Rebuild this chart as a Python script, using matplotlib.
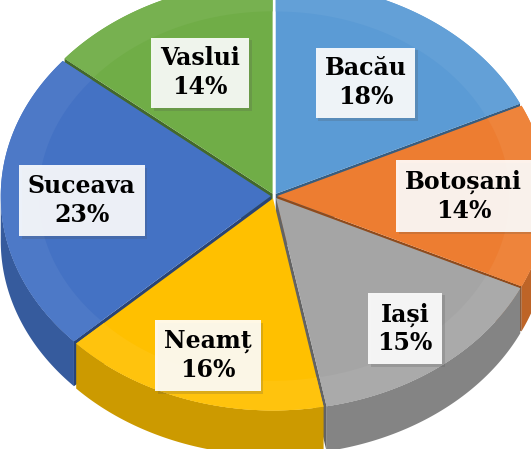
import numpy as np
import matplotlib.pyplot as plt
import matplotlib.patheffects as pe
from matplotlib.patches import Polygon
from matplotlib.colors import to_rgb

regions = ['Bacău', 'Botoșani', 'Iași', 'Neamț', 'Suceava', 'Vaslui']
shares = [18, 14, 15, 16, 23, 14]
colors = ['#5B9BD5', '#ED7D31', '#A5A5A5', '#FFC000', '#4472C4', '#70AD47']

# where each label sits, as a fraction of the radius
label_r = [0.62, 0.69, 0.78, 0.78, 0.70, 0.63]

W, H = 531, 449
fig = plt.figure(figsize=(W / 100, H / 100), dpi=100)
ax = fig.add_axes([0, 0, 1, 1])
ax.set_xlim(0, W)
ax.set_ylim(H, 0)
ax.axis('off')

cx, cy, rx, ry, depth = 274, 196, 270, 212, 45
gap = 0.012


def px(u, v, dz=0.0):
    return cx + rx * np.asarray(u), cy - ry * np.asarray(v) + dz


def shade(c, f):
    r, g, b = to_rgb(c)
    if f < 1:
        return (r * f, g * f, b * f)
    k = f - 1
    return (r + (1 - r) * k, g + (1 - g) * k, b + (1 - b) * k)


total = sum(shares)
slices = []
start = 90.0
for name, s, col in zip(regions, shares, colors):
    t1 = start
    t0 = start - 360.0 * s / total
    tm = np.radians((t0 + t1) / 2)
    ox, oy = gap * np.cos(tm), gap * np.sin(tm)
    slices.append((name, s, col, np.radians(t0), np.radians(t1), tm, ox, oy))
    start = t0

# side walls, back to front
for name, s, col, t0, t1, tm, ox, oy in sorted(slices, key=lambda z: -z[7]):
    side = shade(col, 0.8)
    t = np.linspace(t1, t0, 200)
    m = np.sin(t) <= 1e-9
    if m.sum() > 1:
        tt = t[m]
        xs, ys = px(ox + np.cos(tt), oy + np.sin(tt))
        xb, yb = px(ox + np.cos(tt), oy + np.sin(tt), depth)
        pts = np.column_stack([np.r_[xs, xb[::-1]], np.r_[ys, yb[::-1]]])
        ax.add_patch(Polygon(pts, closed=True, fc=side, ec='none', zorder=1))
    for te, vis in ((t1, np.cos(t1) < 0), (t0, np.cos(t0) > 0)):
        if vis:
            ax_, ay_ = px(ox, oy)
            ex, ey = px(ox + np.cos(te), oy + np.sin(te))
            pts = [(ax_, ay_), (ex, ey), (ex, ey + depth), (ax_, ay_ + depth)]
            ax.add_patch(Polygon(pts, closed=True, fc=shade(col, 0.6),
                                 ec='none', zorder=1))

# top faces
for name, s, col, t0, t1, tm, ox, oy in slices:
    t = np.linspace(t1, t0, 200)
    xs, ys = px(np.r_[ox, ox + np.cos(t)], np.r_[oy, oy + np.sin(t)])
    ax.add_patch(Polygon(np.column_stack([xs, ys]), closed=True,
                         fc=col, ec='none', zorder=2))
    # bevel band near the rim
    xo, yo = px(ox + np.cos(t), oy + np.sin(t))
    xi, yi = px(ox + 0.86 * np.cos(t), oy + 0.86 * np.sin(t))
    pts = np.column_stack([np.r_[xo, xi[::-1]], np.r_[yo, yi[::-1]]])
    ax.add_patch(Polygon(pts, closed=True, fc=shade(col, 1.05),
                         ec='none', zorder=3))

    r = label_r[regions.index(name)]
    lx, ly = px(ox + r * np.cos(tm), oy + r * np.sin(tm))
    txt = ax.text(lx, ly, f'{name}\n{s}%', ha='center', va='center',
                  family='DejaVu Serif', fontweight='bold', fontsize=17,
                  linespacing=1.25, zorder=5,
                  bbox=dict(boxstyle='square,pad=0.38', fc='white',
                            ec='none', alpha=0.9))
    txt.get_bbox_patch().set_path_effects(
        [pe.SimplePatchShadow(offset=(2, -2), alpha=0.2), pe.Normal()])

fig.savefig('out.png', dpi=100)
